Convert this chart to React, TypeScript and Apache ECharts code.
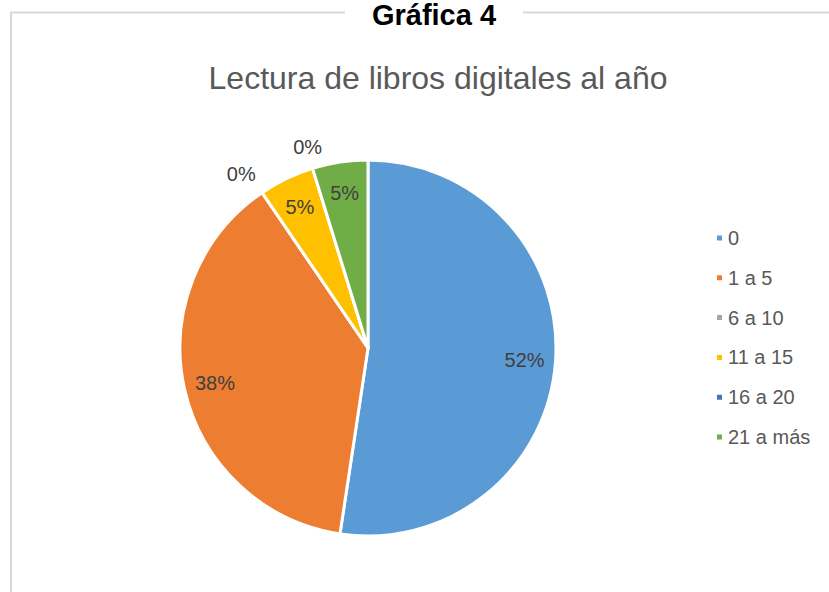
import React, { useEffect, useRef } from 'react';
import * as echarts from 'echarts';

const categories = ['0', '1 a 5', '6 a 10', '11 a 15', '16 a 20', '21 a más'];
const counts = [11, 8, 0, 1, 0, 1];
const colors = ['#5B9BD5', '#ED7D31', '#A5A5A5', '#FFC000', '#4472C4', '#70AD47'];
const chartTitle = 'Gráfica 4';
const chartSubtitle = 'Lectura de libros digitales al año';

const FONT = "'Liberation Sans', Arial, sans-serif";

export default function App() {
  const ref = useRef<HTMLDivElement>(null);

  useEffect(() => {
    document.body.style.margin = '0';
    if (!ref.current) return;
    const chart = echarts.init(ref.current, null, { renderer: 'svg' });

    const center = [368, 348];
    const R = 188;

    const mainData = categories.map((name, i) => ({
      name,
      value: counts[i],
      itemStyle: { color: colors[i] },
    }));

    // outside-label tweaks for zero-valued slices
    const zeroLen2: Record<number, number> = { 2: -6, 4: -16 };
    const labelData = categories.map((name, i) => {
      const isZero = counts[i] === 0;
      return {
        name,
        value: counts[i],
        label: isZero
          ? { position: 'outside', distanceToLabelLine: 0 }
          : { position: 'inside' },
        labelLine: isZero
          ? { show: false, length: 22, length2: zeroLen2[i] ?? 0 }
          : { show: false },
      };
    });

    const option: any = {
      animation: false,
      backgroundColor: '#fff',
      graphic: [
        {
          type: 'rect',
          shape: { x: 11, y: 12.5, width: 1000, height: 1000 },
          style: { fill: 'none', stroke: '#D9D9D9', lineWidth: 2 },
          silent: true,
          z: 1,
        },
        {
          type: 'rect',
          shape: { x: 345, y: 0, width: 178, height: 26 },
          style: { fill: '#fff' },
          silent: true,
          z: 2,
        },
        {
          type: 'text',
          x: 434,
          y: 15,
          style: {
            text: chartTitle,
            fill: '#000',
            font: `bold 29px ${FONT}`,
            textAlign: 'center',
            textVerticalAlign: 'middle',
          },
          silent: true,
          z: 3,
        },
        {
          type: 'text',
          x: 438,
          y: 78,
          style: {
            text: chartSubtitle,
            fill: '#595959',
            font: `32px ${FONT}`,
            textAlign: 'center',
            textVerticalAlign: 'middle',
          },
          silent: true,
          z: 3,
        },
      ],
      legend: {
        orient: 'vertical',
        left: 715,
        top: 228,
        padding: 0,
        icon: 'rect',
        itemWidth: 7,
        itemHeight: 7,
        itemGap: 19.8,
        data: categories,
        textStyle: { color: '#595959', fontSize: 20, lineHeight: 20, fontFamily: FONT },
        selectedMode: false,
      },
      series: [
        {
          type: 'pie',
          center,
          radius: [0, R],
          startAngle: 90,
          clockwise: true,
          avoidLabelOverlap: false,
          label: { show: false },
          labelLine: { show: false },
          itemStyle: { borderColor: '#fff', borderWidth: 3 },
          emphasis: { disabled: true },
          data: mainData,
          silent: true,
        },
        {
          type: 'pie',
          center,
          radius: [120, R],
          startAngle: 90,
          clockwise: true,
          avoidLabelOverlap: false,
          silent: true,
          emphasis: { disabled: true },
          itemStyle: { color: 'rgba(0,0,0,0)', borderWidth: 0 },
          label: {
            show: true,
            color: '#404040',
            fontSize: 20,
            fontFamily: FONT,
            formatter: (p: any) => Math.round(p.percent) + '%',
          },
          data: labelData,
          z: 5,
        },
      ],
    };

    chart.setOption(option);
    return () => chart.dispose();
  }, []);

  return <div ref={ref} style={{ width: 829, height: 592 }} />;
}
